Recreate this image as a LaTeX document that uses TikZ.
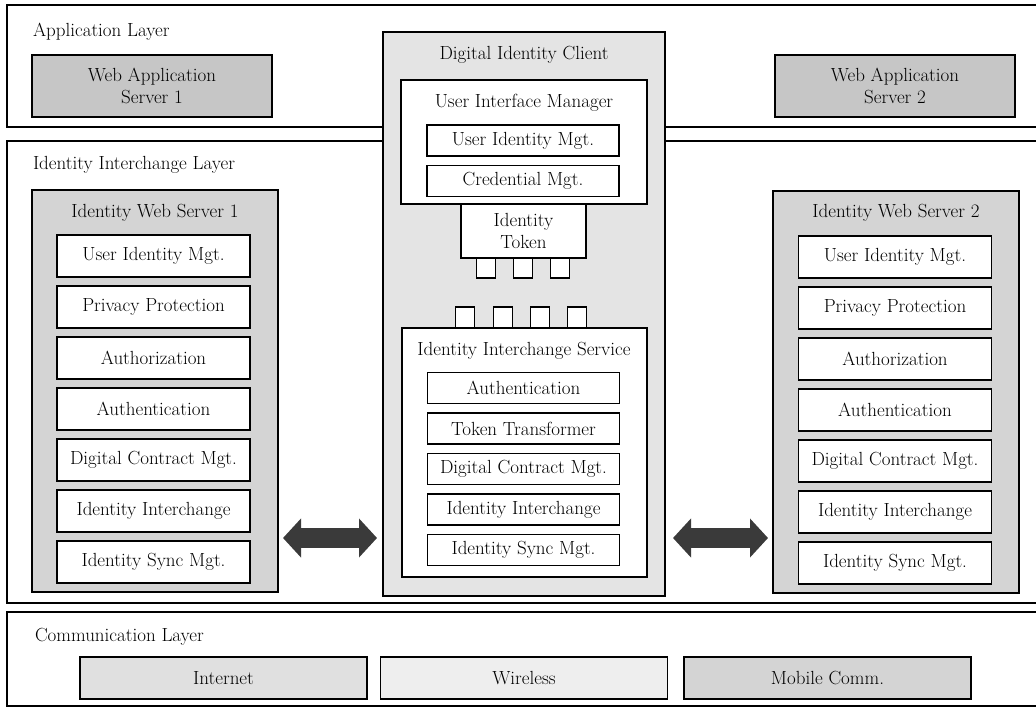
\documentclass[tikz,border=0pt]{standalone}
\usepackage{fontspec}
\usetikzlibrary{arrows.meta}
\definecolor{wasgray}{HTML}{C6C6C6}
\definecolor{iwsgray}{HTML}{D4D4D4}
\definecolor{dicgray}{HTML}{E4E4E4}
\definecolor{netgray}{HTML}{E0E0E0}
\definecolor{wlgray}{HTML}{EEEEEE}
\definecolor{mobgray}{HTML}{D4D4D4}
\definecolor{arrowgray}{HTML}{3A3A3A}
\newcommand{\plaintext}{\addfontfeature{FakeBold=0.6}}
\newcommand{\heavytext}{\addfontfeature{FakeBold=2}}
\begin{document}
\begin{tikzpicture}[x=1pt,y=-1pt,
  every node/.style={font=\fontsize{19}{22}\selectfont\plaintext, inner sep=0pt, outer sep=0pt},
  heading/.style={font=\fontsize{19}{22}\selectfont\heavytext},
  layer/.style={draw, line width=1.5pt, anchor=north west},
  shadedbox/.style={draw, line width=1.3pt, fill=#1},
  whitebox/.style={draw, line width=1.2pt, fill=white},
  sideitem/.style={whitebox, minimum width=193pt, minimum height=42pt},
  dicitem/.style={whitebox, minimum width=192pt, minimum height=31pt},
  plug/.style={whitebox, minimum width=19pt, minimum height=20pt},
  commbox/.style={shadedbox=#1, minimum width=287pt, minimum height=42pt, heading},
  label/.style={anchor=west},
  bigarrow/.style={draw=arrowgray, line width=20pt,
    {Triangle[length=18pt,width=38pt]}-{Triangle[length=18pt,width=38pt]}}
]
\useasboundingbox (0,0) rectangle (1036,708);
\begin{scope}
\clip (0,0) rectangle (1036,708);
% layers
\node[layer, minimum width=1040pt, minimum height=122pt] (applayer) at (7,5) {};
\node[layer, minimum width=1040pt, minimum height=462pt] (idlayer) at (7,141) {};
\node[layer, minimum width=1040pt, minimum height=94pt] (commlayer) at (7,612) {};
\end{scope}
\node[label] (applabel) at (33,32) {Application Layer};
\node[label] (idlabel) at (33,165) {Identity Interchange Layer};
\node[label] (commlabel) at (35,637) {Communication Layer};

% application servers
\node[shadedbox=wasgray, minimum width=240pt, minimum height=62pt, align=center, heading] (was1) at (152,86) {Web Application\\Server 1};
\node[shadedbox=wasgray, minimum width=240pt, minimum height=62pt, align=center, heading] (was2) at (895,86) {Web Application\\Server 2};

% identity web servers
\node[shadedbox=iwsgray, minimum width=246pt, minimum height=402pt] (iws1) at (155,391) {};
\node[shadedbox=iwsgray, minimum width=246pt, minimum height=402pt] (iws2) at (896,392) {};
\node[heading] (iws1title) at (155,213) {Identity Web Server 1};
\node[heading] (iws2title) at (896,213) {Identity Web Server 2};
\foreach \t [count=\i from 0] in {User Identity Mgt.,Privacy Protection,Authorization,Authentication,Digital Contract Mgt.,Identity Interchange,Identity Sync Mgt.}{
  \node[sideitem] (iwsa\i) at (153.5,{256+51*\i}) {\t};
  \node[sideitem] (iwsb\i) at (895,{257+51*\i}) {\t};
}

% digital identity client
\node[shadedbox=dicgray, minimum width=282pt, minimum height=564pt] (dic) at (524,314) {};
\node[heading] (dictitle) at (524,55) {Digital Identity Client};
\node[whitebox, minimum width=246pt, minimum height=124pt] (uim) at (524,142) {};
\node (uimtitle) at (524,103) {User Interface Manager};
\node[dicitem] (uimuser) at (523,140.5) {User Identity Mgt.};
\node[dicitem] (uimcred) at (523,181) {Credential Mgt.};
\node[whitebox, minimum width=125pt, minimum height=54pt, align=center] (token) at (523.5,231) {Identity\\Token};
\node[plug] (tp1) at (486,268) {};
\node[plug] (tp2) at (523,268) {};
\node[plug] (tp3) at (560,268) {};
\node[plug, minimum height=21pt] (sp1) at (465,317.5) {};
\node[plug, minimum height=21pt] (sp2) at (503,317.5) {};
\node[plug, minimum height=21pt] (sp3) at (540,317.5) {};
\node[plug, minimum height=21pt] (sp4) at (577,317.5) {};
\node[whitebox, minimum width=245pt, minimum height=249pt] (iis) at (524.5,452.5) {};
\node (iistitle) at (524,351) {Identity Interchange Service};
\foreach \t [count=\i from 0] in {Authentication,Token Transformer,Digital Contract Mgt.,Identity Interchange,Identity Sync Mgt.}{
  \node[dicitem] (iisitem\i) at (523.5,{388+40.5*\i}) {\t};
}

% communication
\node[commbox=netgray] (internet) at (223.5,678) {Internet};
\node[commbox=wlgray] (wireless) at (524,678) {Wireless};
\node[commbox=mobgray] (mobile) at (827.5,678) {Mobile Comm.};

% exchange arrows
\coordinate (arrowrow) at (0,538);
\draw[bigarrow] ([xshift=5pt]iws1.east |- arrowrow) -- ([xshift=-6pt]dic.west |- arrowrow);
\draw[bigarrow] ([xshift=8pt]dic.east |- arrowrow) -- ([xshift=-5pt]iws2.west |- arrowrow);
\end{tikzpicture}
\end{document}
